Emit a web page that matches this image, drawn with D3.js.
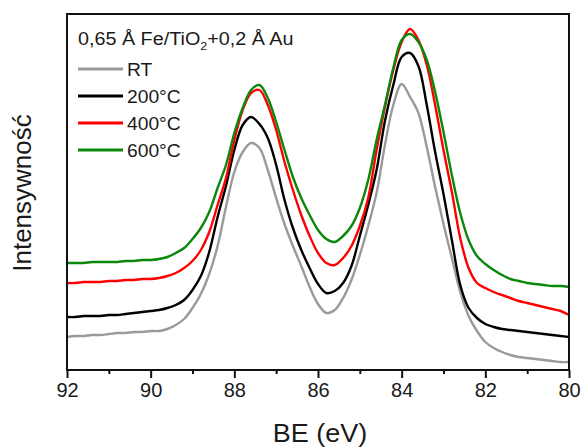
<!DOCTYPE html>
<html>
<head>
<meta charset="utf-8">
<script src="https://cdn.jsdelivr.net/npm/d3@7"></script>
<style>
  html, body { margin: 0; padding: 0; background: #fff; }
  svg { display: block; }
  text { font-family: "Liberation Sans", Arial, Helvetica, sans-serif; fill: #1a1a1a; }
</style>
</head>
<body>
<svg id="chart" width="581" height="447"></svg>
<script>
// Binding energy grid (eV)
const bindingEnergy = [92.0,91.8,91.6,91.4,91.2,91.0,90.8,90.6,90.4,90.2,
  90.0,89.8,89.6,89.4,89.2,89.0,88.8,88.6,88.4,88.2,
  88.0,87.8,87.6,87.4,87.2,87.0,86.8,86.6,86.4,86.2,
  86.0,85.8,85.6,85.4,85.2,85.0,84.8,84.6,84.4,84.2,
  84.0,83.8,83.6,83.4,83.2,83.0,82.8,82.6,82.4,82.2,
  82.0,81.8,81.6,81.4,81.2,81.0,80.8,80.6,80.4,80.2,80.0];

// Intensity (arbitrary units)
const intensityRT = [33,34,34,35,35,36,37,37,38,38,39,39,41,45,51,62,76,96,124,163,
  198,218,227,222,200,172,146,124,104,83,66,57,60,72,90,115,144,177,225,265,
  286,273,257,223,183,146,112,78,54,39,28,22,18,15,13,12,11,10,9,8,8];
const intensity200 = [53,53,54,54,54,55,55,56,57,58,59,60,62,65,70,80,94,118,153,184,
  220,245,253,246,232,205,170,142,120,102,86,77,79,87,104,134,165,200,249,285,
  313,317,304,265,218,176,130,85,62,52,46,43,41,40,39,38,37,36,35,34,33];
const intensity400 = [87,87,88,88,88,89,89,90,90,91,91,92,94,97,102,109,120,138,165,192,
  230,260,277,280,265,240,208,180,155,134,117,107,105,112,124,144,172,220,263,300,
  328,341,330,305,265,220,178,132,102,87,82,78,75,72,69,67,65,63,61,59,55];
const intensity600 = [107,107,107,108,108,108,108,109,109,110,110,111,113,117,122,131,142,158,182,205,
  237,262,280,285,272,248,220,193,172,155,140,131,128,134,144,162,190,230,265,302,
  330,336,328,310,278,238,195,157,130,114,106,100,95,91,89,87,86,85,84,84,83];

const seriesNames = ["RT", "200°C", "400°C", "600°C"];
const seriesColors = ["#9a9a9a", "#000000", "#ff0000", "#0b870b"];
const seriesValues = [intensityRT, intensity200, intensity400, intensity600];

const majorTicks = [92, 90, 88, 86, 84, 82, 80];
const minorTicks = [91, 89, 87, 85, 83, 81];

const xLabel = "BE (eV)";
const yLabel = "Intensywność";

(function () {
  // Layout
  const mLeft = 67, mRight = 569, mTop = 14, mBottom = 370;
  const svg = d3.select("#chart");

  const x = d3.scaleLinear().domain([92, 80]).range([mLeft, mRight]);
  const y = d3.scaleLinear().domain([0, 356]).range([mBottom, mTop]);

  svg.append("defs").append("clipPath").attr("id", "clip")
    .append("rect").attr("x", mLeft).attr("y", mTop)
    .attr("width", mRight - mLeft).attr("height", mBottom - mTop);

  const line = d3.line()
    .x(d => x(d[0]))
    .y(d => y(d[1]))
    .curve(d3.curveCatmullRom.alpha(0.5));

  const plot = svg.append("g").attr("clip-path", "url(#clip)");
  seriesValues.forEach((vals, i) => {
    const pts = bindingEnergy.map((b, j) => [b, vals[j]]);
    plot.append("path")
      .datum(pts)
      .attr("fill", "none")
      .attr("stroke", seriesColors[i])
      .attr("stroke-width", 2.4)
      .attr("stroke-linejoin", "round")
      .attr("d", line);
  });

  // Frame
  svg.append("rect")
    .attr("x", mLeft).attr("y", mTop)
    .attr("width", mRight - mLeft).attr("height", mBottom - mTop)
    .attr("fill", "none").attr("stroke", "#111").attr("stroke-width", 2);

  // X axis
  const axisMajor = d3.axisBottom(x).tickValues(majorTicks).tickSize(8).tickPadding(5)
    .tickFormat(d3.format("d"));
  const gx = svg.append("g").attr("transform", `translate(0,${mBottom})`).call(axisMajor);
  gx.select(".domain").remove();
  gx.selectAll(".tick line").attr("stroke", "#111").attr("stroke-width", 2);
  gx.selectAll(".tick text")
    .style("font-family", '"Liberation Sans", Arial, sans-serif')
    .style("font-size", "20px").attr("fill", "#1a1a1a").attr("dy", "0.71em");

  const axisMinor = d3.axisBottom(x).tickValues(minorTicks).tickSize(4).tickFormat("");
  const gxm = svg.append("g").attr("transform", `translate(0,${mBottom})`).call(axisMinor);
  gxm.select(".domain").remove();
  gxm.selectAll(".tick line").attr("stroke", "#111").attr("stroke-width", 2);

  // Axis titles
  svg.append("text")
    .attr("transform", `translate(320,442) scale(1.08,1)`)
    .attr("text-anchor", "middle")
    .style("font-size", "25px")
    .text(xLabel);

  svg.append("text")
    .attr("transform", `translate(31,193) rotate(-90)`)
    .attr("text-anchor", "middle")
    .style("font-size", "26px")
    .text(yLabel);

  // Legend title
  const title = svg.append("text")
    .attr("transform", `translate(78,45) scale(1.13,1)`)
    .style("font-size", "17.5px");
  title.append("tspan").text("0,65 Å Fe/TiO");
  title.append("tspan").attr("dy", 5).style("font-size", "11px").text("2");
  title.append("tspan").attr("dy", -5).text("+0,2 Å Au");

  // Legend entries
  seriesNames.forEach((name, i) => {
    const yy = 69 + i * 27;
    svg.append("line")
      .attr("x1", 78).attr("x2", 123).attr("y1", yy).attr("y2", yy)
      .attr("stroke", seriesColors[i]).attr("stroke-width", 3);
    svg.append("text")
      .attr("transform", `translate(127,${yy + 7}) scale(1.1,1)`)
      .style("font-size", "17.5px")
      .text(name);
  });
})();
</script>
</body>
</html>
